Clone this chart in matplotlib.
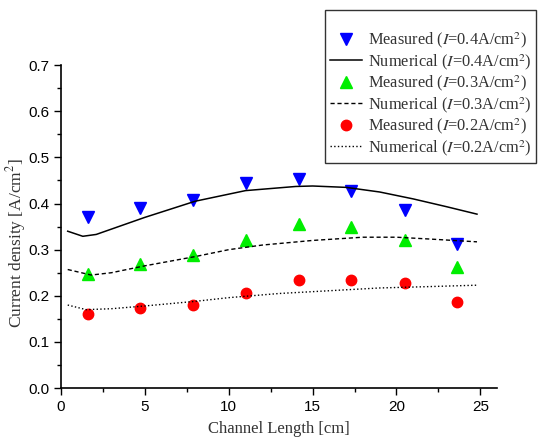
import matplotlib
matplotlib.use("Agg")
import matplotlib.pyplot as plt
from matplotlib.ticker import MultipleLocator

# measured points
x_meas = [1.6, 4.7, 7.85, 11.0, 14.2, 17.3, 20.5, 23.6]
meas_04 = [0.370, 0.390, 0.407, 0.445, 0.453, 0.428, 0.385, 0.312]
meas_03 = [0.248, 0.268, 0.288, 0.322, 0.355, 0.350, 0.322, 0.263]
meas_02 = [0.160, 0.174, 0.181, 0.207, 0.234, 0.235, 0.227, 0.187]

# numerical curves
x_num_04 = [0.4, 1.3, 2.1, 5.0, 8.0, 11.0, 14.0, 15.0, 17.0, 19.0, 21.0, 23.0, 24.8]
num_04 = [0.340, 0.329, 0.333, 0.370, 0.405, 0.428, 0.437, 0.438, 0.435, 0.425, 0.410, 0.393, 0.377]
x_num_03 = [0.4, 1.8, 3.0, 5.0, 8.0, 10.0, 12.0, 15.0, 18.0, 20.0, 22.0, 24.8]
num_03 = [0.257, 0.245, 0.250, 0.265, 0.285, 0.300, 0.310, 0.320, 0.327, 0.327, 0.323, 0.317]
x_num_02 = [0.4, 1.5, 3.0, 5.0, 8.0, 10.0, 13.0, 16.0, 19.0, 22.0, 24.8]
num_02 = [0.180, 0.170, 0.172, 0.178, 0.188, 0.196, 0.205, 0.211, 0.217, 0.220, 0.223]

plt.rcParams['mathtext.fontset'] = 'stix'
serif = 'Liberation Serif'

fig = plt.figure(figsize=(5.57, 4.40), dpi=100)
ax = fig.add_axes([0.1095, 0.118, 0.783, 0.734])

ax.plot(x_meas, meas_04, 'v', color='blue', ms=8.5, label=r'Measured ($I$=0.4A/cm$^2$)')
ax.plot(x_num_04, num_04, '-', color='black', lw=1.1, label=r'Numerical ($I$=0.4A/cm$^2$)')
ax.plot(x_meas, meas_03, '^', color='#00ee00', ms=8.5, label=r'Measured ($I$=0.3A/cm$^2$)')
ax.plot(x_num_03, num_03, '--', color='black', lw=1.0, dashes=(3, 2), label=r'Numerical ($I$=0.3A/cm$^2$)')
ax.plot(x_meas, meas_02, 'o', color='red', ms=7.5, label=r'Measured ($I$=0.2A/cm$^2$)')
ax.plot(x_num_02, num_02, ':', color='black', lw=1.0, label=r'Numerical ($I$=0.2A/cm$^2$)')

ax.set_xlim(0, 26)
ax.set_ylim(0, 0.7)
ax.xaxis.set_major_locator(MultipleLocator(5))
ax.xaxis.set_minor_locator(MultipleLocator(2.5))
ax.yaxis.set_major_locator(MultipleLocator(0.1))
ax.yaxis.set_minor_locator(MultipleLocator(0.05))
ax.set_xticks([0, 5, 10, 15, 20, 25])
ax.set_xticklabels(['0', '5', '10', '15', '20', '25'])
ax.yaxis.set_major_formatter(plt.FormatStrFormatter('%.1f'))
ax.tick_params(which='major', direction='out', length=5, width=1, labelsize=11)
ax.tick_params(which='minor', direction='out', length=3, width=1)
for lab in ax.get_xticklabels() + ax.get_yticklabels():
    lab.set_family('Liberation Sans')

ax.spines['top'].set_visible(False)
ax.spines['right'].set_visible(False)
ax.spines['left'].set_linewidth(1.2)
ax.spines['bottom'].set_linewidth(1.2)

ax.set_xlabel('Channel Length [cm]', family=serif, fontsize=12, color='#333333')
ax.set_ylabel(r'Current density [A/cm$^2$]', family=serif, fontsize=12.5, color='#333333')
ax.xaxis.set_label_coords(0.499, -0.103)
ax.yaxis.set_label_coords(-0.076, 0.45)

leg = fig.legend(loc='upper left', bbox_to_anchor=(325 / 557, 1 - 10 / 440),
                 bbox_transform=fig.transFigure, frameon=True, fancybox=False,
                 prop={'family': serif, 'size': 11.8}, handlelength=1.95,
                 handletextpad=0.35, labelspacing=0.1, borderaxespad=0,
                 borderpad=0.3, title=' ', title_fontsize=10)
leg.get_frame().set_edgecolor('black')
leg.get_frame().set_linewidth(1.0)
for t in leg.get_texts():
    t.set_color('#333333')

fig.savefig('out.png', dpi=100)
